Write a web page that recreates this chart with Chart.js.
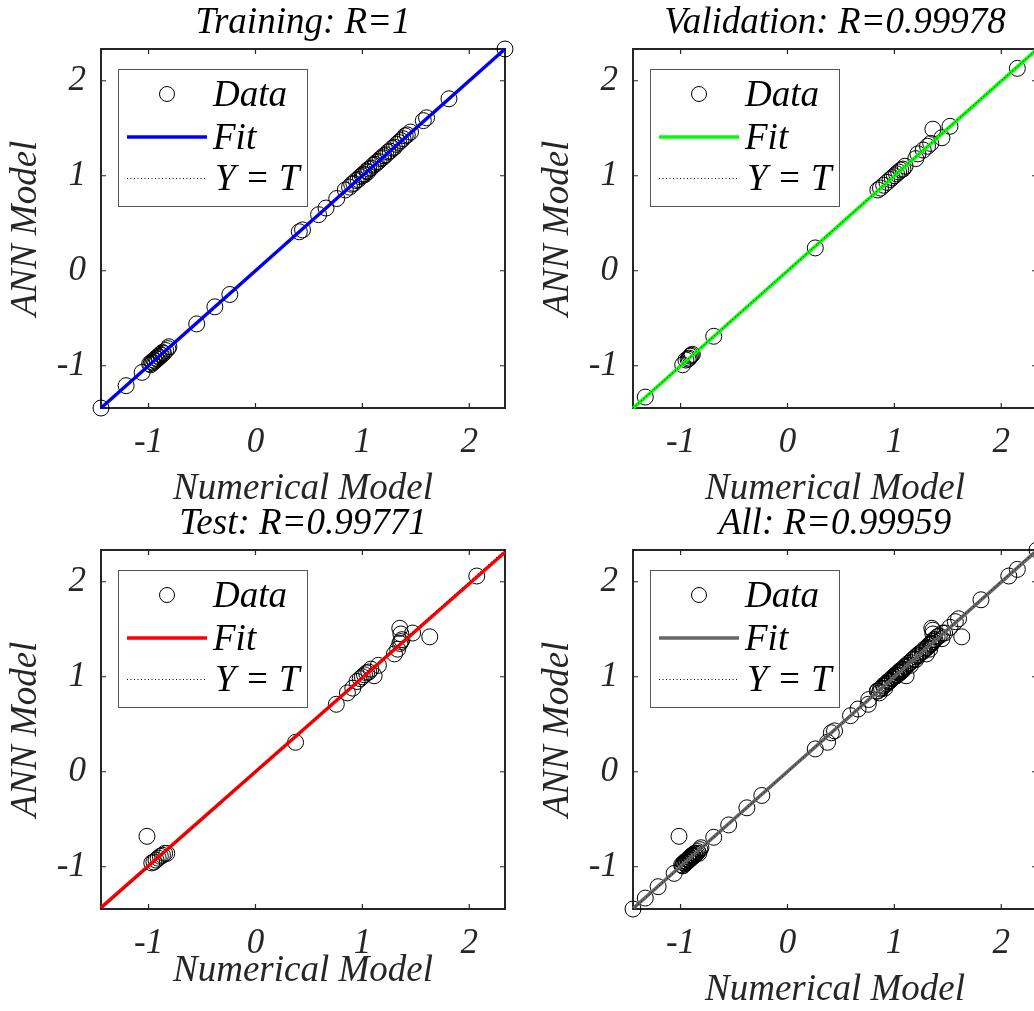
<!DOCTYPE html>
<html>
<head>
<meta charset="utf-8">
<script src="https://cdn.jsdelivr.net/npm/chart.js@4.4.0/dist/chart.umd.min.js"></script>
<style>
  html, body { margin: 0; padding: 0; background: #fff; overflow: hidden; width: 1034px; height: 1011px; }
  .panel { position: absolute; width: 532px; height: 520px; }
</style>
</head>
<body>
<div class="panel" style="left:0;top:0"><canvas id="c0" width="532" height="520"></canvas></div>
<div class="panel" style="left:532px;top:0"><canvas id="c1" width="532" height="520"></canvas></div>
<div class="panel" style="left:0;top:501px"><canvas id="c2" width="532" height="520"></canvas></div>
<div class="panel" style="left:532px;top:501px"><canvas id="c3" width="532" height="520"></canvas></div>
<script>
// axis limits and tick labels (same for all four panels)
const axisMin = -1.445;
const axisMax = 2.334;
const tickValues = [-1, 0, 1, 2];

// Training
const trainX = [-1.445, -1.21, -1.06, -0.99, -0.98, -0.97, -0.96, -0.95, -0.94, -0.93, -0.92, -0.91, -0.90, -0.89, -0.88, -0.87, -0.86, -0.84, -0.82, -0.81,
  -0.55, -0.38, -0.24, 0.41, 0.44, 0.59, 0.66, 0.76, 0.84, 0.88, 0.90, 0.92, 0.94, 0.96, 0.98, 1.00, 1.01, 1.02, 1.04, 1.05, 1.06, 1.08, 1.10,
  1.12, 1.13, 1.15, 1.17, 1.19, 1.20, 1.22, 1.24, 1.26, 1.28, 1.30, 1.32, 1.34, 1.36, 1.38, 1.40, 1.42, 1.45, 1.57, 1.60, 1.81, 2.334];
const trainY = [-1.445, -1.21, -1.07, -0.98, -0.99, -0.96, -0.97, -0.94, -0.95, -0.92, -0.93, -0.90, -0.91, -0.88, -0.89, -0.86, -0.87, -0.84, -0.82, -0.80,
  -0.56, -0.38, -0.25, 0.41, 0.43, 0.59, 0.66, 0.76, 0.85, 0.88, 0.91, 0.92, 0.95, 0.96, 0.99, 1.00, 1.02, 1.01, 1.05, 1.04, 1.07, 1.08, 1.11,
  1.12, 1.14, 1.15, 1.18, 1.19, 1.21, 1.22, 1.25, 1.26, 1.29, 1.30, 1.33, 1.35, 1.37, 1.39, 1.42, 1.43, 1.46, 1.58, 1.61, 1.81, 2.334];
const trainFit = [-1.445, 2.334];

// Validation
const valX = [-1.33, -0.98, -0.95, -0.93, -0.92, -0.91, -0.90, -0.89, -0.69, 0.26, 0.845, 0.87, 0.90, 0.93, 0.96, 0.98, 1.00, 1.02, 1.04, 1.06,
  1.08, 1.10, 1.20, 1.22, 1.27, 1.31, 1.34, 1.36, 1.445, 1.52, 2.15];
const valY = [-1.33, -0.99, -0.94, -0.93, -0.92, -0.90, -0.89, -0.88, -0.69, 0.24, 0.85, 0.87, 0.90, 0.93, 0.96, 0.98, 1.00, 1.02, 1.04, 1.06,
  1.07, 1.10, 1.18, 1.23, 1.27, 1.31, 1.34, 1.49, 1.40, 1.52, 2.13];
const valFit = [-1.447, 2.33];

// Test
const testX = [-1.015, -0.97, -0.95, -0.93, -0.91, -0.89, -0.87, -0.85, -0.83, 0.375, 0.756, 0.86, 0.91, 0.95, 0.98, 1.00, 1.02, 1.04, 1.06, 1.08,
  1.11, 1.15, 1.30, 1.33, 1.35, 1.36, 1.37, 1.35, 1.36, 1.47, 1.63, 2.07];
const testY = [-0.68, -0.96, -0.95, -0.93, -0.91, -0.89, -0.88, -0.86, -0.86, 0.31, 0.71, 0.83, 0.88, 0.95, 0.98, 1.00, 1.02, 1.04, 1.05, 1.08,
  1.01, 1.12, 1.24, 1.29, 1.35, 1.37, 1.39, 1.51, 1.45, 1.46, 1.42, 2.06];
const testFit = [-1.43, 2.31];

// All = training + validation + test
const allX = trainX.concat(valX, testX);
const allY = trainY.concat(valY, testY);
const allFit = [-1.44, 2.33];

const panels = [
  { id: 'c0', title: 'Training: R=1', color: '#0000ff', xs: trainX, ys: trainY, fit: trainFit, xTitlePad: 9 },
  { id: 'c1', title: 'Validation: R=0.99978', color: '#00ff00', xs: valX, ys: valY, fit: valFit, xTitlePad: 9 },
  { id: 'c2', title: 'Test: R=0.99771', color: '#ff0000', xs: testX, ys: testY, fit: testFit, xTitlePad: 28 },
  { id: 'c3', title: 'All: R=0.99959', color: '#666666', xs: allX, ys: allY, fit: allFit, xTitlePad: 9 }
];

const serif = "'Liberation Serif', 'Times New Roman', Times, serif";
const ink = '#262626';

const framePlugin = {
  id: 'frame',
  beforeDatasetsDraw(chart) {
    const { ctx, chartArea: a, scales: { x, y } } = chart;
    ctx.save();
    ctx.strokeStyle = ink;
    ctx.lineWidth = 1.2;
    ctx.beginPath();
    tickValues.forEach(v => {
      const px = x.getPixelForValue(v);
      ctx.moveTo(px, a.bottom); ctx.lineTo(px, a.bottom - 5);
      ctx.moveTo(px, a.top); ctx.lineTo(px, a.top + 5);
      const py = y.getPixelForValue(v);
      ctx.moveTo(a.left, py); ctx.lineTo(a.left + 5, py);
      ctx.moveTo(a.right, py); ctx.lineTo(a.right - 5, py);
    });
    ctx.stroke();
    ctx.lineWidth = 2;
    ctx.strokeRect(a.left, a.top, a.right - a.left, a.bottom - a.top);
    ctx.restore();
  },
  afterDatasetsDraw(chart) {
    const { ctx, chartArea: a } = chart;
    const [dataSet, fitSet, ytSet] = chart.data.datasets;
    const bx = a.left + 17, by = a.top + 20;
    ctx.save();
    ctx.fillStyle = '#fff';
    ctx.fillRect(bx, by, 189, 137);
    ctx.strokeStyle = '#555';
    ctx.lineWidth = 1;
    ctx.strokeRect(bx + 0.5, by + 0.5, 189, 137);

    // Data marker
    ctx.strokeStyle = dataSet.pointBorderColor;
    ctx.lineWidth = 1;
    ctx.beginPath();
    ctx.arc(bx + 49, by + 25, 7.5, 0, Math.PI * 2);
    ctx.stroke();
    // Fit line
    ctx.strokeStyle = fitSet.borderColor;
    ctx.lineWidth = fitSet.borderWidth;
    ctx.beginPath();
    ctx.moveTo(bx + 9, by + 68); ctx.lineTo(bx + 89, by + 68);
    ctx.stroke();
    // Y = T line
    ctx.strokeStyle = ytSet.borderColor;
    ctx.lineWidth = 1;
    ctx.setLineDash(ytSet.borderDash);
    ctx.beginPath();
    ctx.moveTo(bx + 9, by + 109.5); ctx.lineTo(bx + 89, by + 109.5);
    ctx.stroke();
    ctx.setLineDash([]);

    ctx.fillStyle = '#000';
    ctx.font = 'italic 37px ' + serif;
    ctx.textBaseline = 'alphabetic';
    ctx.textAlign = 'left';
    ctx.fillText(dataSet.label, bx + 95, by + 37);
    ctx.fillText(fitSet.label, bx + 95, by + 80);
    ctx.fillText(ytSet.label, bx + 97, by + 121);
    ctx.restore();
  }
};

panels.forEach(p => {
  const points = p.xs.map((x, i) => ({ x: x, y: p.ys[i] }));
  new Chart(document.getElementById(p.id), {
    type: 'scatter',
    data: {
      datasets: [
        {
          label: 'Data',
          data: points,
          pointStyle: 'circle',
          pointRadius: 8,
          pointBorderColor: '#000',
          pointBorderWidth: 1,
          pointBackgroundColor: 'rgba(0,0,0,0)',
          showLine: false,
          clip: false,
          order: 3
        },
        {
          label: 'Fit',
          data: [{ x: axisMin, y: p.fit[0] }, { x: axisMax, y: p.fit[1] }],
          showLine: true,
          borderColor: p.color,
          borderWidth: 3.5,
          pointRadius: 0,
          clip: false,
          order: 2
        },
        {
          label: 'Y = T',
          data: [{ x: axisMin, y: axisMin }, { x: axisMax, y: axisMax }],
          showLine: true,
          borderColor: '#000',
          borderWidth: 1,
          borderDash: [1, 2.5],
          pointRadius: 0,
          clip: false,
          order: 1
        }
      ]
    },
    options: {
      responsive: false,
      animation: false,
      events: [],
      layout: { padding: { left: 0, right: 27, top: 0, bottom: 0 } },
      plugins: {
        legend: { display: false },
        tooltip: { enabled: false },
        title: {
          display: true,
          text: p.title,
          fullSize: false,
          color: '#000',
          font: { family: serif, size: 37, style: 'italic', weight: 'normal' },
          padding: { top: 1, bottom: 3.6 }
        }
      },
      scales: {
        x: {
          type: 'linear',
          min: axisMin,
          max: axisMax,
          afterBuildTicks: s => { s.ticks = tickValues.map(v => ({ value: v })); },
          afterFit: s => { s.height = 112; },
          grid: { display: false, drawTicks: false },
          border: { display: false },
          ticks: {
            color: ink,
            padding: 14,
            maxRotation: 0,
            font: { family: serif, size: 35, style: 'italic' },
            callback: v => String(v)
          },
          title: {
            display: true,
            text: 'Numerical Model',
            color: ink,
            font: { family: serif, size: 37, style: 'italic' },
            padding: { top: 0, bottom: p.xTitlePad }
          }
        },
        y: {
          type: 'linear',
          min: axisMin,
          max: axisMax,
          afterBuildTicks: s => { s.ticks = tickValues.map(v => ({ value: v })); },
          afterFit: s => { s.width = 101; },
          grid: { display: false, drawTicks: false },
          border: { display: false },
          ticks: {
            color: ink,
            padding: 15,
            font: { family: serif, size: 35, style: 'italic' },
            callback: v => String(v)
          },
          title: {
            display: true,
            text: 'ANN Model',
            color: ink,
            font: { family: serif, size: 37, style: 'italic' },
            padding: { top: 4, bottom: 0 }
          }
        }
      }
    },
    plugins: [framePlugin]
  });
});
</script>
</body>
</html>
